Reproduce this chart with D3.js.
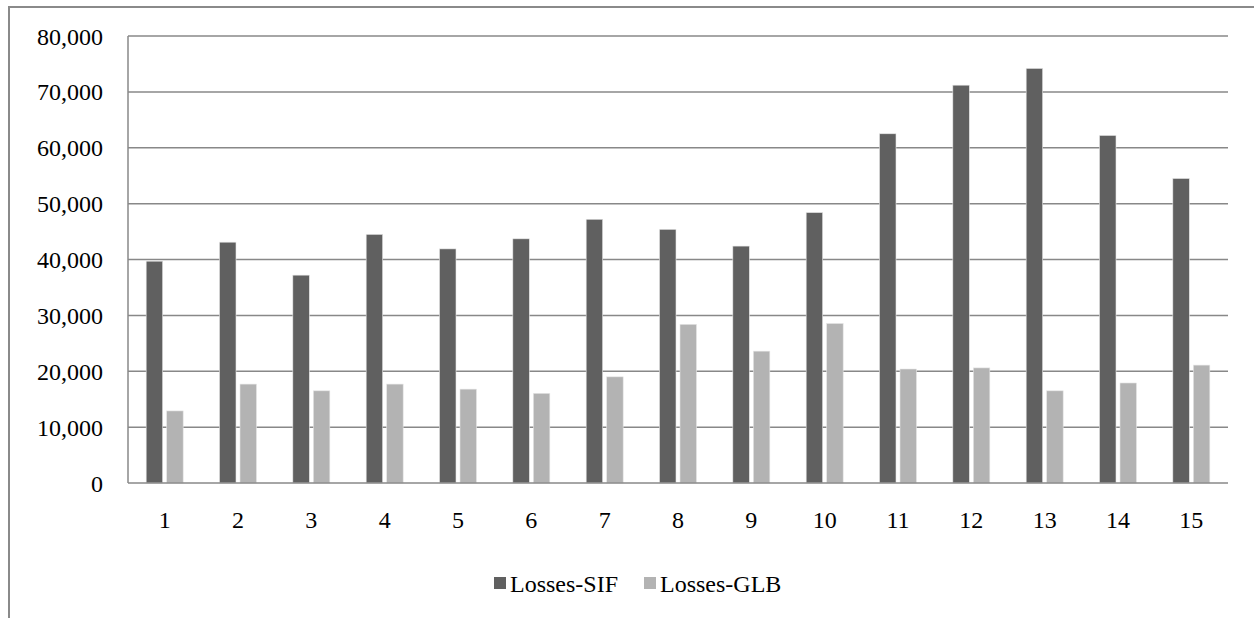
<!DOCTYPE html>
<html>
<head>
<meta charset="utf-8">
<script src="https://cdn.jsdelivr.net/npm/d3@7/dist/d3.min.js"></script>
<style>
  html, body { margin: 0; padding: 0; background: #fff; }
  svg { display: block; }
  text { font-family: "Liberation Serif", "Times New Roman", serif; fill: #000; }
</style>
</head>
<body>
<svg id="chart" width="1254" height="618"></svg>
<script>
const categories = ["1","2","3","4","5","6","7","8","9","10","11","12","13","14","15"];
const seriesNames = ["Losses-SIF", "Losses-GLB"];
const lossesSIF = [39700, 43100, 37200, 44500, 41900, 43700, 47200, 45400, 42400, 48400, 62500, 71200, 74200, 62200, 54500];
const lossesGLB = [12900, 17700, 16500, 17700, 16800, 16050, 19000, 28400, 23600, 28550, 20400, 20600, 16500, 17900, 21100];
const yTicks = [0, 10000, 20000, 30000, 40000, 50000, 60000, 70000, 80000];
const colors = ["#606060", "#b3b3b3"];

const svg = d3.select("#chart");
const plotLeft = 128, plotRight = 1228, plotTop = 36, plotBottom = 483;
const fontSize = 24;

// outer chart border (extends beyond the canvas at right and bottom)
svg.append("rect")
  .attr("x", 9).attr("y", 7).attr("width", 1400).attr("height", 800)
  .attr("fill", "none").attr("stroke", "#8a8a8a").attr("stroke-width", 2);

const y = d3.scaleLinear().domain([0, 80000]).range([plotBottom, plotTop]);
const x0 = d3.scaleBand().domain(categories).range([plotLeft, plotRight]).paddingInner(0).paddingOuter(0);
const bw = x0.bandwidth();
const x1 = d3.scaleBand().domain(seriesNames)
  .range([bw / 2 - 18.5, bw / 2 + 18.5]).paddingInner(0.195).paddingOuter(0);

// gridlines
svg.append("g").selectAll("line").data(yTicks.filter(d => d > 0)).join("line")
  .attr("x1", plotLeft).attr("x2", plotRight)
  .attr("y1", d => y(d)).attr("y2", d => y(d))
  .attr("stroke", "#888").attr("stroke-width", 1.5);

// bars
const data = categories.map((c, i) => ({ cat: c, vals: [lossesSIF[i], lossesGLB[i]] }));
const groups = svg.append("g").selectAll("g").data(data).join("g")
  .attr("transform", d => `translate(${x0(d.cat)},0)`);
groups.selectAll("rect").data(d => d.vals.map((v, j) => ({ s: seriesNames[j], v, j }))).join("rect")
  .attr("x", d => x1(d.s))
  .attr("width", x1.bandwidth())
  .attr("y", d => y(d.v))
  .attr("height", d => y(0) - y(d.v))
  .attr("fill", d => colors[d.j])
  .attr("stroke", "#e6e6e6").attr("stroke-width", 0.6);

// axes lines
svg.append("line").attr("x1", plotLeft).attr("x2", plotLeft).attr("y1", plotTop).attr("y2", plotBottom)
  .attr("stroke", "#888").attr("stroke-width", 1.5);
svg.append("line").attr("x1", plotLeft).attr("x2", plotRight).attr("y1", plotBottom).attr("y2", plotBottom)
  .attr("stroke", "#888").attr("stroke-width", 1.5);

// y labels
const fmt = d3.format(",");
svg.append("g").selectAll("text").data(yTicks).join("text")
  .attr("x", 103).attr("y", d => y(d) + 8.5)
  .attr("text-anchor", "end")
  .attr("font-size", fontSize)
  .text(d => fmt(d));

// x labels
svg.append("g").selectAll("text").data(categories).join("text")
  .attr("x", d => x0(d) + bw / 2).attr("y", 528)
  .attr("text-anchor", "middle")
  .attr("font-size", fontSize)
  .text(d => d);

// legend
const legendX = [494, 644];
const lg = svg.append("g").selectAll("g").data(seriesNames).join("g")
  .attr("transform", (d, i) => `translate(${legendX[i]},577)`);
lg.append("rect").attr("width", 12).attr("height", 12).attr("fill", (d, i) => colors[i]);
lg.append("text").attr("x", 16).attr("y", 14.5).attr("font-size", fontSize).text(d => d);
</script>
</body>
</html>
